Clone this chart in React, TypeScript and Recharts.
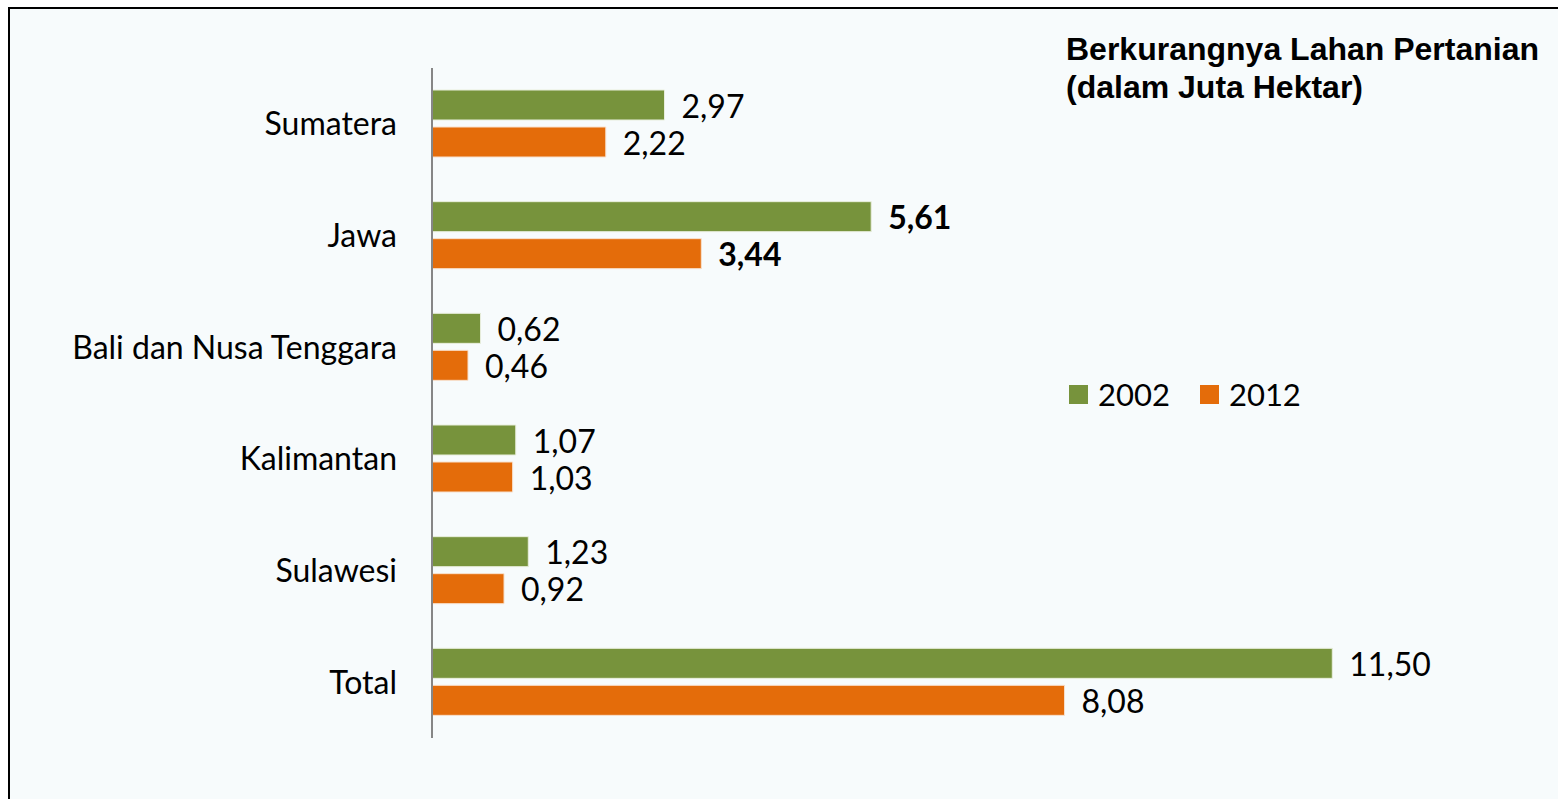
import React from "react";
import { BarChart, Bar, XAxis, YAxis, LabelList } from "recharts";

const categories = ["Sumatera", "Jawa", "Bali dan Nusa Tenggara", "Kalimantan", "Sulawesi", "Total"];
const values2002 = [2.97, 5.61, 0.62, 1.07, 1.23, 11.5];
const values2012 = [2.22, 3.44, 0.46, 1.03, 0.92, 8.08];
const boldCategories = ["Jawa"];
const seriesNames = ["2002", "2012"];
const colors = ["#77933C", "#E46C0A"];

const data = categories.map((c, i) => ({ name: c, y2002: values2002[i], y2012: values2012[i] }));

const FONT = "Lato, 'DejaVu Sans', sans-serif";
const fmt = (v: number) => v.toFixed(2).replace(".", ",");

const makeLabel = (key: string) => (props: any) => {
  const { x, y, width, height, value, index } = props;
  const bold = boldCategories.includes(categories[index]);
  return (
    <text
      x={Number(x) + Number(width) + 17}
      y={Number(y) + Number(height) / 2}
      dominantBaseline="central"
      fontFamily={FONT}
      fontSize={32}
      fontWeight={bold ? 700 : 400}
      fill="#000"
      key={key + index}
    >
      {fmt(Number(value))}
    </text>
  );
};

export default function App() {
  return (
    <div
      style={{
        position: "fixed",
        left: 8,
        top: 7,
        width: 1550,
        height: 792,
        borderTop: "2px solid #000",
        borderLeft: "2px solid #000",
        background: "#F7FBFC",
        boxSizing: "border-box",
        overflow: "hidden",
      }}
    >
      <div
        style={{
          position: "absolute",
          left: 1056,
          top: 21,
          fontFamily: "'Liberation Sans', Arial, sans-serif",
          fontWeight: 700,
          fontSize: 32,
          lineHeight: "38px",
          color: "#000",
          whiteSpace: "nowrap",
        }}
      >
        Berkurangnya Lahan Pertanian
        <br />
        (dalam Juta Hektar)
      </div>
      <div
        style={{
          position: "absolute",
          left: 1059,
          top: 366,
          display: "flex",
          alignItems: "center",
          fontFamily: FONT,
          fontSize: 31,
          color: "#000",
        }}
      >
        {seriesNames.map((n, i) => (
          <div key={n} style={{ display: "flex", alignItems: "center", marginRight: 30 }}>
            <div style={{ width: 19, height: 19, background: colors[i], marginRight: 10 }} />
            <span>{n}</span>
          </div>
        ))}
      </div>
      <div style={{ position: "absolute", left: 0, top: 0 }}>
        <BarChart
          width={1548}
          height={790}
          data={data}
          layout="vertical"
          margin={{ top: 59, right: 30, bottom: 61, left: 0 }}
          barSize={30}
          barGap={7}
        >
          <XAxis type="number" hide domain={[0, 14]} />
          <YAxis
            type="category"
            dataKey="name"
            width={422}
            axisLine={{ stroke: "#868686", strokeWidth: 2 }}
            tickLine={false}
            tickSize={0}
            tickMargin={35}
            tick={{ fontFamily: FONT, fontSize: 32, fill: "#000" }}
            interval={0}
          />
          <Bar dataKey="y2002" name={seriesNames[0]} fill={colors[0]} stroke="#E8EEDC" strokeWidth={1} isAnimationActive={false}>
            <LabelList dataKey="y2002" content={makeLabel("a")} />
          </Bar>
          <Bar dataKey="y2012" name={seriesNames[1]} fill={colors[1]} stroke="#F8E0CC" strokeWidth={1} isAnimationActive={false}>
            <LabelList dataKey="y2012" content={makeLabel("b")} />
          </Bar>
        </BarChart>
      </div>
    </div>
  );
}
